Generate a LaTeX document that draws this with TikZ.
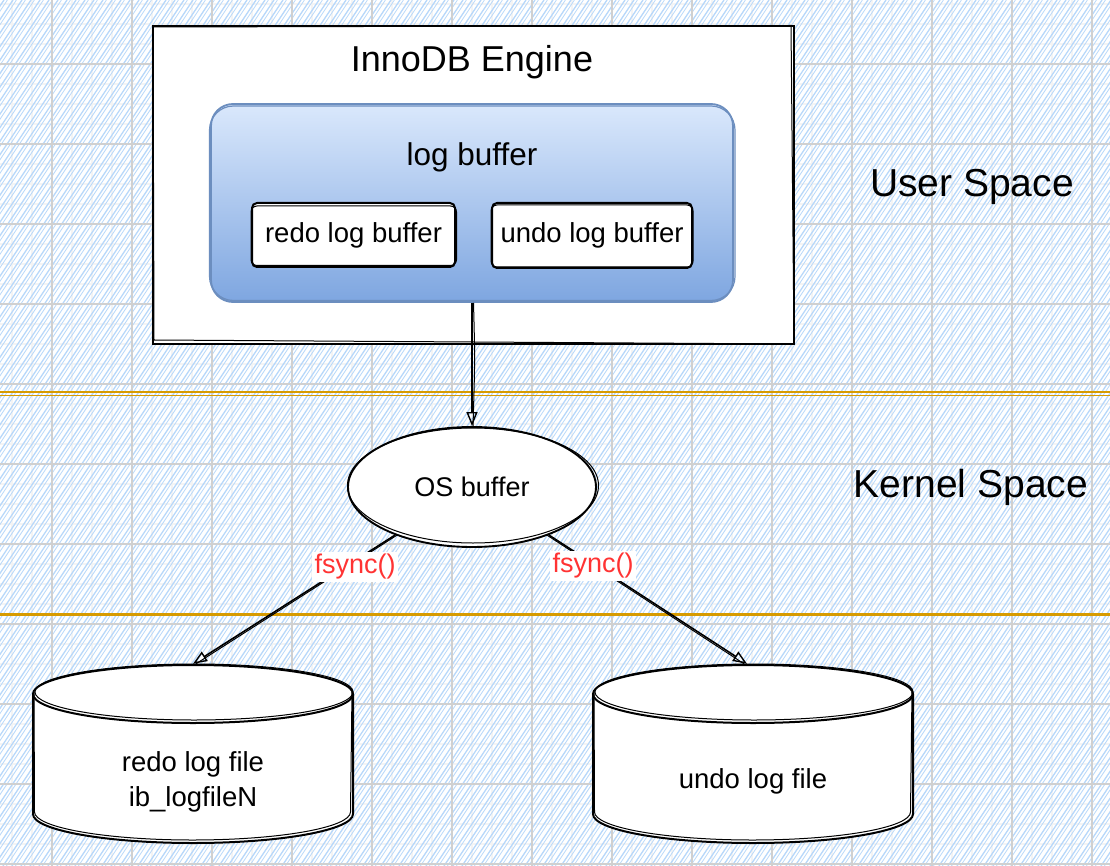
\documentclass[tikz,border=0pt]{standalone}
\usepackage{fontspec}
\setmainfont{Liberation Sans}
\usetikzlibrary{arrows.meta,shapes.geometric}
\definecolor{hatchblue}{RGB}{184,216,250}
\definecolor{gridmaj}{RGB}{208,208,208}
\definecolor{gridmin}{RGB}{244,244,244}
\definecolor{goldline}{HTML}{D79B00}
\definecolor{lbtop}{HTML}{DAE8FC}
\definecolor{lbbot}{HTML}{7EA6E0}
\definecolor{lbline}{HTML}{6C8EBF}
\definecolor{fred}{HTML}{FF3333}
\tikzset{
  sketchline/.style={line width=2, black},
  thinsketch/.style={line width=1, black},
  arrowhd/.style={-{Triangle[open,length=14,width=11,line width=1.4]}, line width=1.6},
  txt/.style={inner sep=0, text=black},
  flabel/.style={fill=white, inner sep=2.5, text=fred, font=\fontsize{27}{32}\selectfont},
  bigtxt/.style={txt, font=\fontsize{39}{46}\selectfont},
}
\begin{document}
\begin{tikzpicture}[x=1pt,y=-1pt]
\useasboundingbox (0,0) rectangle (1110,866);
\fill[white] (0,0) rectangle (1110,866);
% grid
\foreach \x in {12,32,...,1110} \draw[gridmin, line width=1.5] (\x,0) -- (\x,866);
\foreach \y in {4,24,...,866} \draw[gridmin, line width=1.5] (0,\y) -- (1110,\y);
% hatch
\begin{scope}
\clip (0,0) rectangle (1110,866);
\foreach \i in {-600,-591,...,1110} {
  \draw[hatchblue, line width=1.3] (\i,866) -- ++(577,-866);
  \draw[hatchblue, line width=0.8] (\i+3.4,866) -- ++(577,-866);
}
\end{scope}
\foreach \x in {52,132,...,1110} \draw[gridmaj, line width=1.2] (\x,0) -- (\x,866);
\foreach \y in {64,144,...,866} \draw[gridmaj, line width=1.2] (0,\y) -- (1110,\y);

% separators
\draw[goldline, line width=1.8] (0,392.3) -- (1110,392.3);
\draw[goldline, line width=1.6] (0,395.3) -- (1110,395.3);
\draw[goldline, line width=3] (0,614) -- (1110,614);

% InnoDB engine container
\node[draw, line width=2.2, fill=white, minimum width=641, minimum height=318, anchor=north west] (engine) at (152,25) {};
\draw[thinsketch] (153,27) -- (791,25.5) -- (794,344) -- (154,340) -- cycle;
\node[txt, font=\fontsize{36}{43}\selectfont] (title) at (472,62) {InnoDB Engine};

% log buffer
\node[draw=lbline, top color=lbtop, bottom color=lbbot, rounded corners=22, minimum width=522, minimum height=198, line width=1.8] (logbuf) at (472,203) {};
\draw[lbline, line width=1.2, rounded corners=24] (209.5,106) rectangle (735,300.5);
\node[txt, font=\fontsize{31.5}{38}\selectfont] (lbtext) at (472,157) {log buffer};

\node[draw, line width=2, fill=white, rounded corners=5, minimum width=203, minimum height=64, font=\fontsize{27.5}{33}\selectfont] (redobuf) at (353.5,235) {redo log buffer};
\draw[thinsketch, rounded corners=6] (251,206) rectangle (456.5,265.5);
\node[draw, line width=2, fill=white, rounded corners=5, minimum width=200, minimum height=65, font=\fontsize{27.5}{33}\selectfont] (undobuf) at (592,235.5) {undo log buffer};
\draw[thinsketch, rounded corners=6] (491,205) rectangle (693,267);

% OS buffer
\node[ellipse, draw, line width=1.9, fill=white, minimum width=248, minimum height=120, inner sep=0, font=\fontsize{27}{32}\selectfont] (os) at (472,487) {OS buffer};
\draw[thinsketch] (473,485.5) ellipse[x radius=125.5, y radius=57.5];

% cylinders
\node[minimum width=320, minimum height=180, inner sep=0] (redocyl) at (193,754) {};
\node[minimum width=320, minimum height=180, inner sep=0] (undocyl) at (753,754) {};
\foreach \cx in {193,753} {
  \path[fill=white] (\cx-160,694) -- (\cx-160,814) arc[start angle=180,end angle=0,x radius=160,y radius=29] -- (\cx+160,694) arc[start angle=0,end angle=-180,x radius=160,y radius=29] -- cycle;
  \draw[sketchline] (\cx-160,694) -- (\cx-160,814) arc[start angle=180,end angle=0,x radius=160,y radius=29] -- (\cx+160,694);
  \draw[sketchline] (\cx,694) ellipse[x radius=160, y radius=29];
  \draw[thinsketch] (\cx-159,692) -- (\cx-158.5,812) arc[start angle=180,end angle=0,x radius=158,y radius=28] -- (\cx+159,691);
  \draw[thinsketch] (\cx+1,692) ellipse[x radius=159, y radius=28];
}
\node[txt, align=center, font=\fontsize{27.5}{35}\selectfont] (redotxt) at (193,782) {redo log file\\ib\_logfileN};
\node[txt, font=\fontsize{27.5}{33}\selectfont] (undotxt) at (753,781) {undo log file};

% connectors
\draw[arrowhd] (logbuf.south) -- (os.north);
\draw[thinsketch] ([xshift=1.5]logbuf.south) .. controls ([xshift=3]logbuf.south |- 0,360) .. ([xshift=1]os.north);
\draw[arrowhd] (os.212) -- (redocyl.north);
\draw[thinsketch] ([xshift=2]os.212) -- ([xshift=3]redocyl.north);
\draw[arrowhd] (os.-32) -- ([xshift=-6]undocyl.north);
\draw[thinsketch] ([xshift=-2]os.-32) -- ([xshift=-9]undocyl.north);

\node[flabel] (fs1) at (355,567) {fsync()};
\node[flabel] (fs2) at (593,566) {fsync()};

% side labels
\node[bigtxt] (user) at (972,187) {User Space};
\node[bigtxt] (kernel) at (971,487) {Kernel Space};
\end{tikzpicture}
\end{document}
